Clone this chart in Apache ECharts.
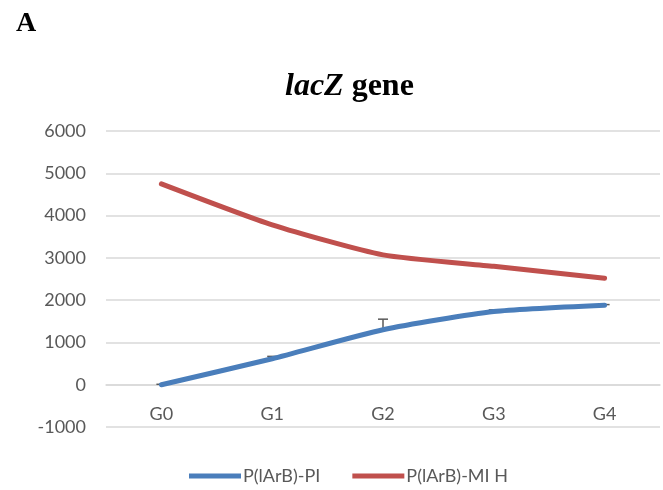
<!DOCTYPE html>
<html lang="en">
<head>
    <meta charset="UTF-8">
    <title>lacZ gene</title>
    <script src="https://cdn.jsdelivr.net/npm/echarts@6/dist/echarts.min.js"></script>
    <style>
        html, body { margin: 0; padding: 0; background: #fff; }
        #main { width: 663px; height: 490px; }
    </style>
</head>
<body>
<div id="main"></div>
<script>
    var categories = ['G0', 'G1', 'G2', 'G3', 'G4'];
    var piValues = [0, 615, 1300, 1730, 1880];
    var piErrorPlus = [10, 55, 250, 40, 15];
    var mihValues = [4750, 3780, 3070, 2800, 2520];
    var seriesNames = ['P(lArB)-PI', 'P(lArB)-MI H'];

    var errData = [];
    for (var i = 0; i < categories.length; i++) {
        errData.push([i, piValues[i], piValues[i] + piErrorPlus[i]]);
    }

    var chart = echarts.init(document.getElementById('main'));
    var labelFont = 'Lato, "Open Sans", sans-serif';

    var option = {
        backgroundColor: '#fff',
        animation: false,
        title: [
            {
                text: 'A',
                left: 11, top: 5,
                textStyle: { fontFamily: '"Liberation Serif", serif', fontWeight: 'bold', fontSize: 28, color: '#000' }
            },
            {
                text: '{i|lacZ}{b| gene}',
                left: 280, top: 66,
                textStyle: {
                    rich: {
                        i: { fontFamily: '"Liberation Serif", serif', fontStyle: 'italic', fontWeight: 'bold', fontSize: 32, color: '#000' },
                        b: { fontFamily: '"Liberation Serif", serif', fontWeight: 'bold', fontSize: 32, color: '#000' }
                    }
                }
            }
        ],
        legend: {
            data: seriesNames,
            bottom: 0,
            left: 184,
            itemWidth: 52,
            itemHeight: 5,
            itemGap: 32,
            icon: 'rect',
            textStyle: { fontFamily: labelFont, fontSize: 18, color: '#595959', padding: [0, 0, 0, -3] }
        },
        grid: { left: 106, right: 3, top: 131, bottom: 63 },
        xAxis: {
            type: 'category',
            data: categories,
            offset: -42.3,
            axisLine: { onZero: false, lineStyle: { color: '#d9d9d9', width: 1.5 } },
            axisTick: { show: false },
            axisLabel: { fontFamily: labelFont, fontSize: 18, color: '#595959', margin: 20 }
        },
        yAxis: {
            type: 'value',
            min: -1000, max: 6000, interval: 1000,
            axisLine: { show: false },
            axisTick: { show: false },
            axisLabel: { fontFamily: labelFont, fontSize: 18, color: '#595959', margin: 20,
                formatter: function (v) { return String(v); } },
            splitLine: { lineStyle: { color: '#d9d9d9', width: 1.5 } }
        },
        series: [
            {
                name: seriesNames[0],
                type: 'line',
                data: piValues,
                smooth: 0.2,
                symbol: 'none',
                color: '#4a7ebb',
                lineStyle: { width: 5, cap: 'round' },
                z: 3
            },
            {
                name: seriesNames[1],
                type: 'line',
                data: mihValues,
                smooth: 0.2,
                symbol: 'none',
                color: '#c0504d',
                lineStyle: { width: 5, cap: 'round' },
                z: 3
            },
            {
                name: 'err',
                type: 'custom',
                data: errData,
                z: 2,
                renderItem: function (params, api) {
                    var base = api.coord([api.value(0), api.value(1)]);
                    var top = api.coord([api.value(0), api.value(2)]);
                    var half = 5;
                    return {
                        type: 'group',
                        children: [
                            { type: 'line', shape: { x1: base[0], y1: base[1], x2: top[0], y2: top[1] },
                              style: { stroke: '#595959', lineWidth: 1.5 } },
                            { type: 'line', shape: { x1: top[0] - half, y1: top[1], x2: top[0] + half, y2: top[1] },
                              style: { stroke: '#595959', lineWidth: 1.5 } }
                        ]
                    };
                }
            }
        ]
    };
    chart.setOption(option);
</script>
</body>
</html>
